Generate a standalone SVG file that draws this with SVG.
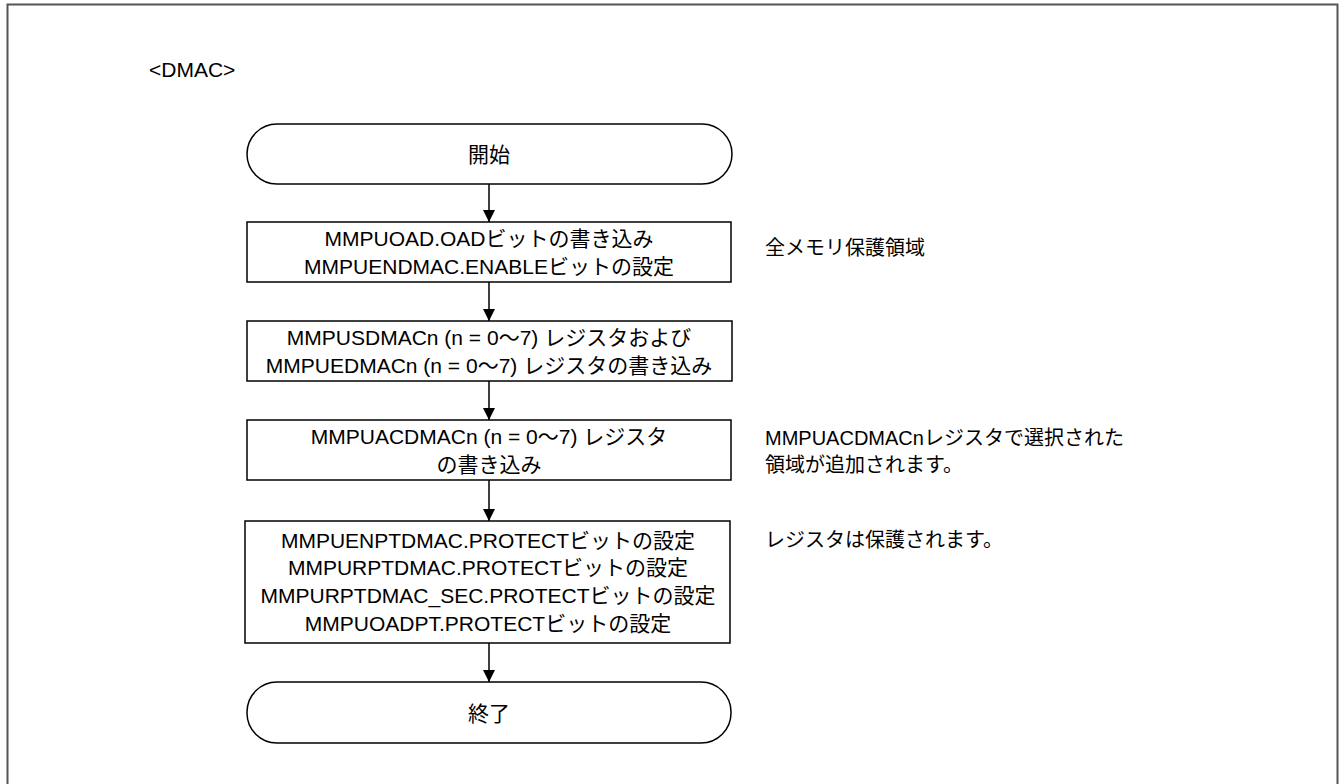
<svg xmlns="http://www.w3.org/2000/svg" width="1343" height="784" viewBox="0 0 1343 784">
<defs>
<marker id="ah" markerWidth="12" markerHeight="12" refX="10" refY="5" orient="auto" markerUnits="userSpaceOnUse" viewBox="0 0 10 10">
<path d="M0,0 L10,5 L0,10 z" fill="#000"/>
</marker>
<style>
text{font-family:"Liberation Sans","Noto Sans CJK JP",sans-serif;font-size:21px;fill:#000}
.c{text-anchor:middle}
.s{font-size:20px}
.n{fill:#fff;stroke:#000;stroke-width:1.5}
.e{stroke:#000;stroke-width:1.5;fill:none}
</style>
</defs>
<rect width="1343" height="784" fill="#fff"/>
<path d="M7.5,800 V4.5 H1337.5 V800" fill="none" stroke="#555" stroke-width="2"/>
<text x="149" y="77">&lt;DMAC&gt;</text>
<g id="connectors">
<line class="e" x1="489" y1="184" x2="489" y2="222" marker-end="url(#ah)"/>
<line class="e" x1="489" y1="282" x2="489" y2="321" marker-end="url(#ah)"/>
<line class="e" x1="489" y1="381" x2="489" y2="420" marker-end="url(#ah)"/>
<line class="e" x1="489" y1="480" x2="489" y2="521" marker-end="url(#ah)"/>
<line class="e" x1="489" y1="643" x2="489" y2="682" marker-end="url(#ah)"/>
</g>
<g id="start">
<rect class="n" x="247" y="124" width="485" height="60" rx="30"/>
<text class="c" x="489" y="162">開始</text>
</g>
<g id="step1">
<rect class="n" x="247" y="222" width="484" height="60"/>
<text class="c" x="489" y="245.5">MMPUOAD.OADビットの書き込み</text>
<text class="c" x="489" y="273.5">MMPUENDMAC.ENABLEビットの設定</text>
</g>
<g id="step2">
<rect class="n" x="247" y="321" width="485" height="60"/>
<text class="c" x="489" y="344.5">MMPUSDMACn (n = 0～7) レジスタおよび</text>
<text class="c" x="489" y="372.5">MMPUEDMACn (n = 0～7) レジスタの書き込み</text>
</g>
<g id="step3">
<rect class="n" x="247" y="420" width="484" height="60"/>
<text class="c" x="489" y="443.5">MMPUACDMACn (n = 0～7) レジスタ</text>
<text class="c" x="489" y="471.5">の書き込み</text>
</g>
<g id="step4">
<rect class="n" x="245" y="521" width="485" height="122"/>
<text class="c" x="488" y="547.5">MMPUENPTDMAC.PROTECTビットの設定</text>
<text class="c" x="488" y="575.2">MMPURPTDMAC.PROTECTビットの設定</text>
<text class="c" x="488" y="603">MMPURPTDMAC_SEC.PROTECTビットの設定</text>
<text class="c" x="488" y="630.7">MMPUOADPT.PROTECTビットの設定</text>
</g>
<g id="end">
<rect class="n" x="247" y="682" width="484" height="61" rx="30"/>
<text class="c" x="489" y="720.5">終了</text>
</g>
<g id="notes">
<text class="s" x="765" y="255">全メモリ保護領域</text>
<text class="s" x="765" y="445">MMPUACDMACnレジスタで選択された</text>
<text class="s" x="765" y="472">領域が追加されます。</text>
<text class="s" x="765" y="547">レジスタは保護されます。</text>
</g>
</svg>
